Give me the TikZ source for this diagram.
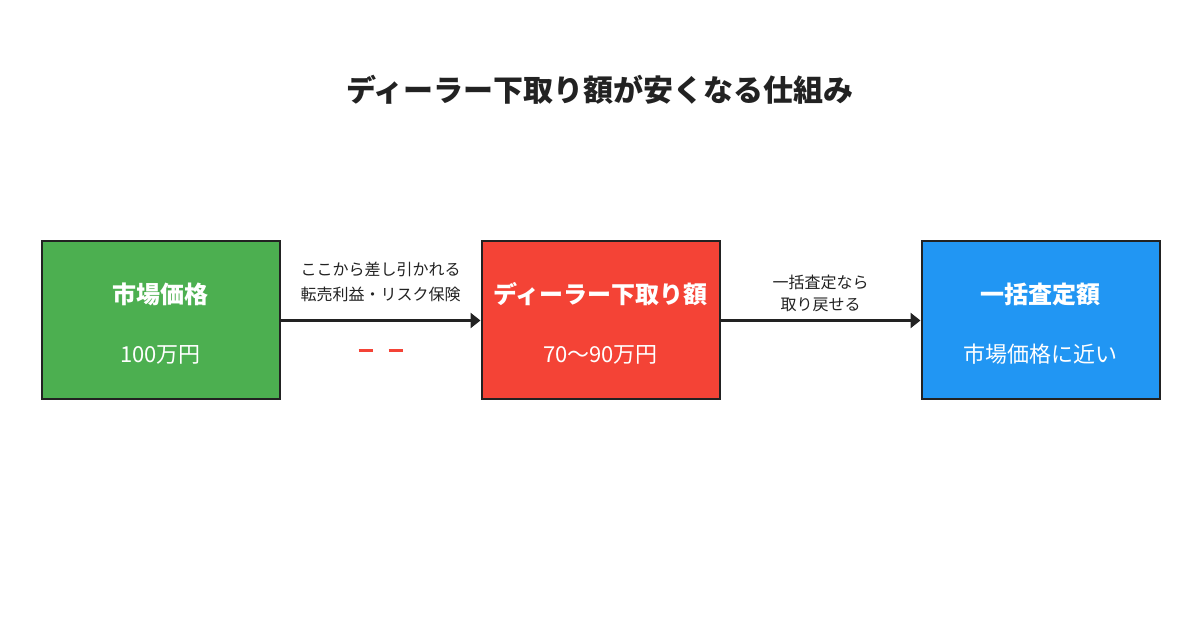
\documentclass[tikz,border=0pt]{standalone}
\usepackage{fontspec}
\setmainfont{Noto Sans CJK JP}
\usetikzlibrary{arrows.meta, positioning, calc}
\definecolor{mktgreen}{HTML}{4CAF50}
\definecolor{dlrred}{HTML}{F44336}
\definecolor{bulkblue}{HTML}{2196F3}
\definecolor{inkdark}{HTML}{222222}

\begin{document}
\begin{tikzpicture}[x=1pt, y=1pt, >={Triangle[length=10pt, width=15pt]},
  box/.style={draw=inkdark, line width=2pt, minimum width=238pt, minimum height=158pt},
  boxtitle/.style={text=white, font=\fontsize{24}{28}\selectfont\bfseries},
  boxsub/.style={text=white, font=\fontsize{22}{26}\selectfont},
  note/.style={text=inkdark, font=\fontsize{16}{25}\selectfont, align=center}]

        \useasboundingbox (0,0) rectangle (1200,630);

        % Title
        \node[text=inkdark, font=\fontsize{30}{36}\selectfont\bfseries] (title) at (600,540) {ディーラー下取り額が安くなる仕組み};

        % Boxes
        \node[box, fill=mktgreen] (mkt) at (160.5,309.5) {};
        \node[box, fill=dlrred, right=200pt of mkt] (dlr) {};
        \node[box, fill=bulkblue, right=200pt of dlr] (bulk) {};

        % Box texts
        \node[boxtitle] (mkt-t) at ([yshift=26]mkt.center) {市場価格};
        \node[boxsub] (mkt-s) at ([yshift=-34]mkt.center) {100万円};
        \node[boxtitle] (dlr-t) at ([yshift=26]dlr.center) {ディーラー下取り額};
        \node[boxsub] (dlr-s) at ([yshift=-34]dlr.center) {70〜90万円};
        \node[boxtitle] (bulk-t) at ([yshift=26]bulk.center) {一括査定額};
        \node[boxsub] (bulk-s) at ([yshift=-34]bulk.center) {市場価格に近い};

        % Arrows
        \draw[->, line width=3pt, draw=inkdark] (mkt) -- node[note, above=14pt] {ここから差し引かれる\\転売利益・リスク保険} (dlr);
        \draw[->, line width=3pt, draw=inkdark] (dlr) -- node[note, above=4pt, font=\fontsize{16}{22}\selectfont] {一括査定なら\\取り戻せる} (bulk);

        % Minus marks
        \coordinate (cut) at ($(mkt.east)!0.5!(dlr.west)+(0,-30)$);
        \draw[dlrred, line width=3pt, dash pattern=on 14pt off 16pt] ([xshift=-22pt]cut) -- ([xshift=22pt]cut);

\end{tikzpicture}
\end{document}
